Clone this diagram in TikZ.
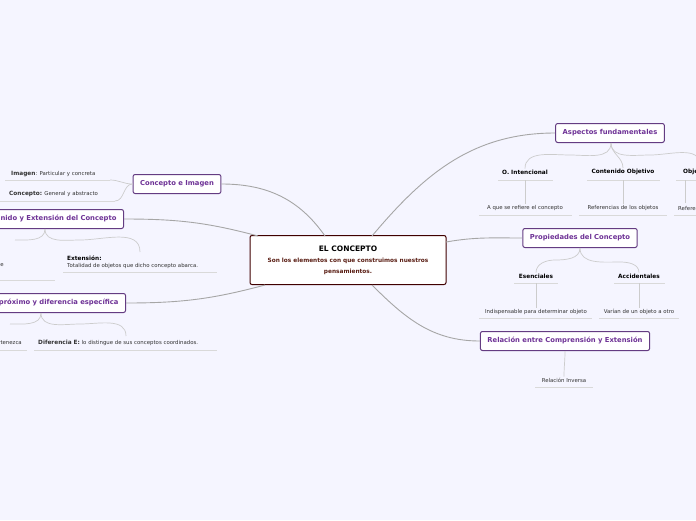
\documentclass[tikz,border=0pt]{standalone}
\usepackage{fontspec}
\setmainfont{DejaVu Sans}
\definecolor{subt}{RGB}{90,30,20}
\definecolor{purp}{RGB}{110,50,150}
\definecolor{purpb}{RGB}{100,60,130}
\begin{document}
\begin{tikzpicture}[x=1pt,y=-1pt,
  main/.style={draw=purpb,line width=1pt,rounded corners=2pt,fill=white,text=purp,font=\fontsize{6.8}{8}\selectfont\bfseries,minimum height=19pt,inner xsep=7pt},
  lbl/.style={font=\fontsize{5.8}{7}\selectfont\bfseries,text=black,inner sep=1pt},
  sm/.style={font=\fontsize{5.4}{6}\selectfont,text=black!80,inner sep=1pt},
  conn/.style={draw=gray!70,line width=0.9pt},
  sub/.style={draw=gray!40,line width=0.7pt},
  ul/.style={draw=gray!30,line width=1pt}]
\fill[blue!4!white] (0,0) rectangle (696,520);
\useasboundingbox (0,0) rectangle (696,520);
\clip (0,0) rectangle (696,520);
% center
\node[draw=black!75!red,line width=1pt,rounded corners=2pt,fill=white,minimum width=196pt,minimum height=49pt] (c) at (348,260) {};
\node[font=\fontsize{7.5}{9}\selectfont\bfseries] (ct) at (348,249) {EL CONCEPTO};
\node[font=\fontsize{5.8}{11}\selectfont\bfseries,text=subt,align=center] (cs) at (348,266) {Son los elementos con que construimos nuestros\\pensamientos.};
% main nodes
\node[main] (ci) at (177,184) {Concepto e Imagen};
\node[main,anchor=east] (ce) at (124,219) {Contenido y Extensión del Concepto};
\node[main,anchor=east] (gp) at (126,303) {Género próximo y diferencia específica};
\node[main] (af) at (610,133) {Aspectos fundamentales};
\node[main] (pc) at (580,238) {Propiedades del Concepto};
\node[main] (rc) at (565,341) {Relación entre Comprensión y Extensión};
\coordinate (t1) at (325,236);
\coordinate (t2) at (258,236);
\coordinate (t3) at (265,285);
\coordinate (t4) at (372,236);
\coordinate (t5) at (446,242);
\coordinate (t6) at (372,285);
\draw[conn] (t1) to[out=125,in=0] (ci.east);
\draw[conn] (t2) to[out=165,in=0] (ce.east);
\draw[conn] (t3) to[out=195,in=0] (gp.east);
\draw[conn] (t4) to[out=50,in=180] (af.west);
\draw[conn] (t5) to[out=10,in=180] (pc.west);
\draw[conn] (t6) to[out=-45,in=180] (rc.west);
% Concepto e Imagen children
\node[sm,anchor=west] (im) at (10,174) {{\fontsize{5.8}{7}\selectfont\bfseries Imagen}: Particular y concreta};
\node[sm,anchor=west] (co) at (8,194) {{\fontsize{5.8}{7}\selectfont\bfseries Concepto:} General y abstracto};
\draw[ul] (5,180) -- (110,180); \draw[ul] (0,201) -- (115,201);
\draw[sub] (ci.west) to[out=180,in=0] (110,180);
\draw[sub] (ci.west) to[out=180,in=0] (115,201);
% Contenido y Extension children
\node[lbl,anchor=west] (ex) at (66,258) {Extensión:};
\node[sm,anchor=west] (ext) at (66,266) {Totalidad de objetos que dicho concepto abarca.};
\node[sm,anchor=east] (cmp) at (5,266) {que};
\draw[ul] (63,272) -- (217,272); \draw[ul] (0,280) -- (55,280);
\draw[sub] (45,229) to[out=-90,in=180] (80,240) to[out=0,in=90] (140,252);
\draw[sub] (45,229) to[out=-90,in=0] (15,240);
% Genero children
\node[sm,anchor=west] (de) at (37,343) {{\fontsize{5.8}{7}\selectfont\bfseries Diferencia E:} lo distingue de sus conceptos coordinados.};
\node[sm,anchor=east] (gpc) at (23,343) {pertenezca};
\draw[ul] (34,350) -- (217,350); \draw[ul] (0,350) -- (27,350);
\draw[sub] (41,313) to[out=-90,in=180] (80,324) to[out=0,in=90] (126,336);
\draw[sub] (41,313) to[out=-90,in=0] (10,324);
% Aspectos children
\node[lbl] (oi) at (525,172) {O. Intencional};
\node[lbl] (cob) at (623,172) {Contenido Objetivo};
\node[lbl,anchor=west] (oo) at (682,172) {Objeto};
\draw[ul] (498,180) -- (553,180); \draw[ul] (587,180) -- (660,180); \draw[ul] (676,180) -- (696,180);
\draw[sub] (611,143) to[out=-90,in=0] (570,155) to[out=180,in=90] (oi.north);
\draw[sub] (611,143) to[out=-90,in=90] (cob.north);
\draw[sub] (611,143) to[out=-90,in=180] (650,155) to[out=0,in=90] (700,165);
\node[sm] (a1) at (525,208) {A que se refiere el concepto};
\node[sm] (a2) at (623,208) {Referencias de los objetos};
\node[sm,anchor=west] (a3) at (677,208) {Referencias};
\draw[ul] (479,215) -- (572,215); \draw[ul] (579,215) -- (667,215); \draw[ul] (674,215) -- (696,215);
\draw[sub] (525,180) -- (a1.north); \draw[sub] (623,180) -- (a2.north); \draw[sub] (685,180) -- (685,203);
% Propiedades children
\node[lbl] (es) at (536,276) {Esenciales};
\node[lbl] (ac) at (639,276) {Accidentales};
\draw[ul] (514,283) -- (558,283); \draw[ul] (614,283) -- (665,283);
\draw[sub] (580,248) to[out=-90,in=0] (555,260) to[out=180,in=90] (es.north);
\draw[sub] (580,248) to[out=-90,in=180] (620,262) to[out=0,in=90] (ac.north);
\node[sm] (b1) at (536,312) {Indispensable para determinar objeto};
\node[sm] (b2) at (639,312) {Varían de un objeto a otro};
\draw[ul] (479,318) -- (592,318); \draw[ul] (599,318) -- (679,318);
\draw[sub] (536,283) -- (b1.north); \draw[sub] (639,283) -- (b2.north);
% Relacion child
\node[sm] (ri) at (564,380) {Relación Inversa};
\draw[ul] (535,387) -- (593,387);
\draw[sub] (565,351) to[out=-90,in=90] (ri.north);
\end{tikzpicture}
\end{document}
